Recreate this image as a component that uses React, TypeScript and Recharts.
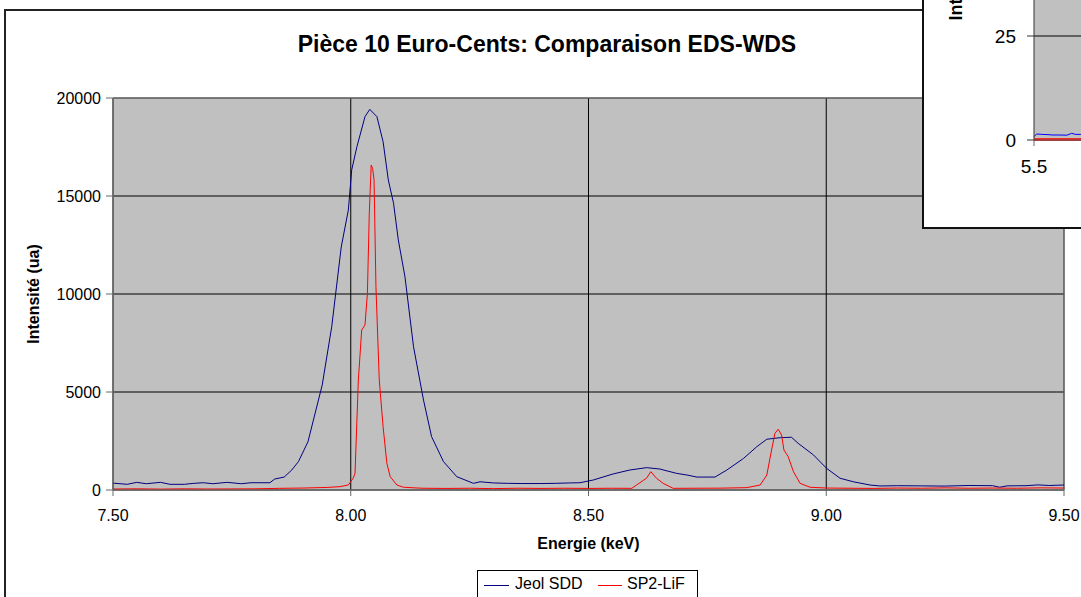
import { LineChart, Line, XAxis, YAxis, CartesianGrid, ReferenceArea } from "recharts";

// Jeol SDD (EDS) spectrum, keV / counts
const sddEnergy = [
  7.5, 7.53, 7.55, 7.57, 7.6, 7.62, 7.65, 7.67, 7.69, 7.71, 7.74, 7.77, 7.79, 7.83, 7.84, 7.86,
  7.876, 7.89, 7.91, 7.94, 7.96, 7.98, 7.995, 8.002, 8.013, 8.03, 8.04, 8.055, 8.068, 8.079, 8.09,
  8.1, 8.114, 8.132, 8.153, 8.17, 8.195, 8.223, 8.258, 8.272, 8.3, 8.33, 8.36, 8.4, 8.43, 8.46,
  8.482, 8.51, 8.552, 8.587, 8.622, 8.65, 8.685, 8.707, 8.728, 8.766, 8.791, 8.826, 8.854, 8.875,
  8.903, 8.927, 8.941, 8.973, 9.001, 9.029, 9.057, 9.092, 9.113, 9.15, 9.2, 9.25, 9.3, 9.35, 9.365,
  9.38, 9.42, 9.445, 9.47, 9.5,
];
const sddCounts = [
  350, 290, 390, 320, 390, 290, 290, 340, 370, 320, 390, 320, 370, 370, 560, 660,
  1020, 1450, 2460, 5360, 8330, 12400, 14290, 16330, 17520, 19050, 19420, 19050, 17770, 15820, 14630,
  12760, 10880, 7310, 4590, 2720, 1450, 680, 340, 420, 360, 340, 330, 330, 340, 360,
  370, 510, 820, 1020, 1140, 1070, 850, 765, 660, 660, 1020, 1610, 2210, 2590,
  2670, 2690, 2380, 1790, 1100, 600, 420, 255, 205, 220, 210, 200, 230, 220, 140,
  210, 220, 260, 230, 255,
];

// SP2-LiF (WDS) spectrum
const wdsEnergy = [
  7.5, 7.55, 7.6, 7.65, 7.7, 7.75, 7.8, 7.85, 7.9, 7.95, 7.977, 7.995, 8.005, 8.009, 8.016, 8.023,
  8.03, 8.035, 8.039, 8.043, 8.046, 8.049, 8.053, 8.06, 8.068, 8.076, 8.083, 8.097, 8.111, 8.15,
  8.2, 8.25, 8.3, 8.35, 8.4, 8.45, 8.5, 8.55, 8.591, 8.608, 8.622, 8.631, 8.643, 8.657, 8.678,
  8.72, 8.78, 8.833, 8.861, 8.875, 8.885, 8.892, 8.899, 8.906, 8.911, 8.92, 8.931, 8.945, 8.966,
  9.0, 9.05, 9.1, 9.15, 9.2, 9.25, 9.3, 9.35, 9.4, 9.45, 9.5,
];
const wdsCounts = [
  50, 60, 45, 60, 50, 55, 60, 85, 100, 130, 170, 255, 600, 850, 5610, 8160,
  8420, 10030, 14120, 16580, 16400, 15820, 10370, 5610, 3230, 1360, 680, 255, 140, 90,
  80, 90, 70, 90, 80, 90, 80, 90, 85, 370, 600, 935, 600, 340, 85,
  90, 95, 120, 255, 765, 2040, 2890, 3100, 2810, 2040, 1700, 935, 340, 140,
  100, 90, 80, 100, 90, 110, 90, 100, 90, 110, 100,
];

const xTicks = [7.5, 8, 8.5, 9, 9.5];
const yTicks = [0, 5000, 10000, 15000, 20000];

// inset (zoom on the baseline), only its left edge is visible
const insetEnergy = [5.5, 5.51, 5.53, 5.55, 5.573, 5.6, 5.626, 5.645, 5.66, 5.68, 5.7];
const insetSdd = [0.8, 1.45, 1.35, 1.3, 1.2, 1.2, 1.15, 1.6, 1.35, 1.35, 1.4];
const insetWds = [0.1, 0.1, 0.1, 0.1, 0.1, 0.1, 0.1, 0.1, 0.1, 0.1, 0.1];
const insetXTicks = [5.5, 6, 6.5, 7, 7.5, 8, 8.5];
const insetYTicks = [0, 25, 50];

const sddData = sddEnergy.map((e, i) => ({ e, v: sddCounts[i] }));
const wdsData = wdsEnergy.map((e, i) => ({ e, v: wdsCounts[i] }));
const insetSddData = insetEnergy.map((e, i) => ({ e, v: insetSdd[i] }));
const insetWdsData = insetEnergy.map((e, i) => ({ e, v: insetWds[i] }));

const FONT = '"Liberation Sans", Arial, sans-serif';
const BLUE = "#000080";
const RED = "#ff0000";

const App = () => (
  <div
    style={{
      position: "absolute",
      left: 0,
      top: 0,
      width: 1081,
      height: 597,
      overflow: "hidden",
      background: "#fff",
      fontFamily: FONT,
    }}
  >
    <div
      style={{
        position: "absolute",
        left: 4,
        top: 9,
        width: 1300,
        height: 900,
        border: "2px solid #222",
        boxSizing: "border-box",
      }}
    />
    <div
      style={{
        position: "absolute",
        left: 0,
        top: 31,
        width: 1094,
        textAlign: "center",
        fontSize: 23,
        fontWeight: "bold",
        lineHeight: "26px",
      }}
    >
      Pièce 10 Euro-Cents: Comparaison EDS-WDS
    </div>

    <div style={{ position: "absolute", left: 0, top: 0 }}>
      <LineChart width={1081} height={597} margin={{ top: 98, right: 17, bottom: 67, left: 0 }}>
        <CartesianGrid stroke="#000" fill="#c0c0c0" strokeWidth={1} />
        <ReferenceArea x1={7.5} x2={9.5} y1={0} y2={20000} fill="none" stroke="#808080" ifOverflow="visible" />
        <XAxis
          dataKey="e"
          type="number"
          domain={[7.5, 9.5]}
          ticks={xTicks}
          tickFormatter={(v: number) => v.toFixed(2)}
          height={40}
          stroke="#666"
          tickSize={6}
          tickMargin={14}
          tick={{ fill: "#000", fontSize: 16 }}
          allowDataOverflow
          label={{
            content: (p: any) => (
              <text
                x={p.viewBox.x + p.viewBox.width / 2}
                y={p.viewBox.y + 59}
                textAnchor="middle"
                fontSize={16}
                fontWeight="bold"
                fill="#000"
              >
                Energie (keV)
              </text>
            ),
          }}
        />
        <YAxis
          type="number"
          domain={[0, 20000]}
          ticks={yTicks}
          width={113}
          stroke="#666"
          tickSize={7}
          tickMargin={5}
          tick={{ fill: "#000", fontSize: 16 }}
          label={{
            content: (p: any) => {
              const cx = p.viewBox.x + 33;
              const cy = p.viewBox.y + p.viewBox.height / 2;
              return (
                <text
                  x={cx}
                  y={cy}
                  transform={`rotate(-90 ${cx} ${cy})`}
                  textAnchor="middle"
                  dominantBaseline="central"
                  fontSize={16}
                  fontWeight="bold"
                  fill="#000"
                >
                  Intensité (ua)
                </text>
              );
            },
          }}
        />
        <Line data={sddData} dataKey="v" stroke={BLUE} strokeWidth={1} dot={false} isAnimationActive={false} name="Jeol SDD" />
        <Line data={wdsData} dataKey="v" stroke={RED} strokeWidth={1} dot={false} isAnimationActive={false} name="SP2-LiF" />
      </LineChart>
    </div>

    {/* legend */}
    <div
      style={{
        position: "absolute",
        left: 477,
        top: 570,
        width: 221,
        height: 40,
        border: "1px solid #000",
        background: "#fff",
        fontSize: 16,
        boxSizing: "border-box",
      }}
    >
      <div style={{ position: "absolute", left: 6, top: 14, width: 25, height: 1, background: BLUE }} />
      <span style={{ position: "absolute", left: 37, top: 4, whiteSpace: "nowrap" }}>Jeol SDD</span>
      <div style={{ position: "absolute", left: 120, top: 14, width: 24, height: 1, background: RED }} />
      <span style={{ position: "absolute", left: 149, top: 4, whiteSpace: "nowrap" }}>SP2-LiF</span>
    </div>

    {/* inset chart */}
    <div
      style={{
        position: "absolute",
        left: 922,
        top: -200,
        width: 920,
        height: 429,
        border: "2px solid #111",
        background: "#fff",
        boxSizing: "border-box",
      }}
    >
      <LineChart width={900} height={425} margin={{ top: 130, right: 10, bottom: 47, left: 0 }}>
        <CartesianGrid stroke="#000" fill="#c0c0c0" vertical={false} />
        <XAxis
          dataKey="e"
          type="number"
          domain={[5.5, 8.5]}
          ticks={insetXTicks}
          tickFormatter={(v: number) => v.toFixed(1)}
          height={40}
          stroke="#666"
          tickSize={6}
          tickMargin={14}
          tick={{ fill: "#000", fontSize: 19 }}
        />
        <YAxis
          type="number"
          domain={[0, 50]}
          ticks={insetYTicks}
          width={110}
          stroke="#333"
          tickSize={7}
          tickMargin={11}
          tick={{ fill: "#000", fontSize: 19 }}
          label={{
            content: () => (
              <text
                x={31.5}
                y={218.5}
                transform="rotate(-90 31.5 218.5)"
                textAnchor="start"
                dominantBaseline="central"
                fontSize={18}
                fontWeight="bold"
                fill="#000"
              >
                Intensité (ua)
              </text>
            ),
          }}
        />
        <Line data={insetSddData} dataKey="v" stroke="#0000ff" strokeWidth={1} dot={false} isAnimationActive={false} />
        <Line data={insetWdsData} dataKey="v" stroke={RED} strokeWidth={2.5} dot={false} isAnimationActive={false} />
      </LineChart>
    </div>
  </div>
);

export default App;
